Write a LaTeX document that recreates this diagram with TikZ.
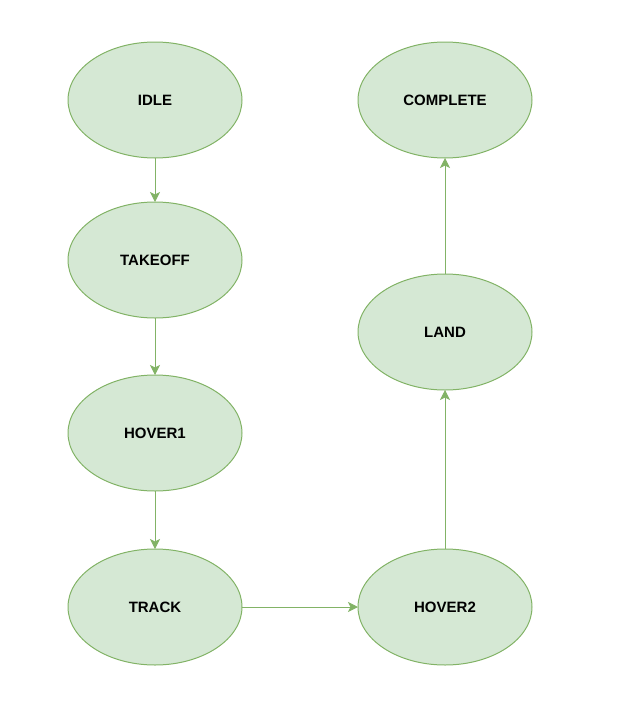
\documentclass[tikz,border=0pt]{standalone}
\usepackage{fontspec}
\setmainfont{Liberation Sans}
\definecolor{statefill}{HTML}{D5E8D4}
\definecolor{stateline}{HTML}{82B366}
\usetikzlibrary{
    arrows.meta,
    positioning,
    shapes.geometric,
}
\tikzset{>={Stealth[length=10pt,width=10pt,inset=2.5pt]}}
\tikzset{
    state/.style={draw=stateline,fill=statefill,ellipse,line width=1pt,
        minimum width=174pt,minimum height=116pt,inner sep=0pt,outer sep=0pt,
        font=\fontsize{15}{18}\selectfont\bfseries},
    trans/.style={->,draw=stateline,line width=1pt},
}
\begin{document}
\begin{tikzpicture}[x=1pt,y=-1pt]
            \useasboundingbox (0,0) rectangle (627,715);
            \node[state] (idle) at (155,100) {IDLE};
            \node[state,below=44pt of idle] (takeoff) {TAKEOFF};
            \node[state,below=57pt of takeoff] (hover1) {HOVER1};
            \node[state,below=58pt of hover1] (track) {TRACK};
            \node[state,right=116pt of track] (hover2) {HOVER2};
            \node[state,above=159pt of hover2] (land) {LAND};
            \node[state,above=116pt of land] (complete) {COMPLETE};
            \draw[trans] (idle) -- (takeoff);
            \draw[trans] (takeoff) -- (hover1);
            \draw[trans] (hover1) -- (track);
            \draw[trans] (track) -- (hover2);
            \draw[trans] (hover2) -- (land);
            \draw[trans] (land) -- (complete);
        \end{tikzpicture}
\end{document}
